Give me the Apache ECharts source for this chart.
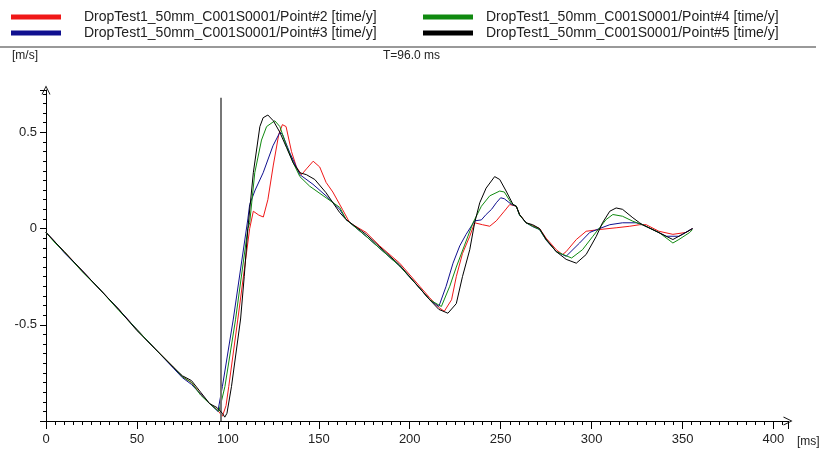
<!DOCTYPE html>
<html>
<head>
<meta charset="utf-8">
<script src="https://cdn.jsdelivr.net/npm/echarts@6/dist/echarts.min.js"></script>
<style>
  html, body { margin: 0; padding: 0; background: #fff; }
  #chart { width: 820px; height: 454px; }
</style>
</head>
<body>
<div id="chart"></div>
<script>
// series names
var seriesNames = [
  'DropTest1_50mm_C001S0001/Point#2 [time/y]',
  'DropTest1_50mm_C001S0001/Point#3 [time/y]',
  'DropTest1_50mm_C001S0001/Point#4 [time/y]',
  'DropTest1_50mm_C001S0001/Point#5 [time/y]'
];
var seriesColors = ['#f01818', '#101090', '#108a10', '#000000'];

// [time ms, velocity m/s]
var point2 = [[0,-0.02],[5,-0.07],[10,-0.12],[20,-0.22],[30,-0.32],[40,-0.42],[50,-0.525],[60,-0.625],[70,-0.72],[75,-0.77],[80,-0.80],[85,-0.86],[90,-0.91],[94,-0.94],[97,-0.975],[99,-0.92],[100.5,-0.82],[105.5,-0.47],[112,0.0],[114,0.09],[117,0.07],[119.5,0.06],[122,0.15],[125,0.33],[128,0.49],[130,0.54],[132,0.53],[135,0.40],[137.7,0.32],[140.5,0.28],[143.2,0.31],[146.9,0.35],[150.5,0.32],[154,0.24],[157.7,0.19],[163,0.10],[167,0.03],[176,-0.02],[183.5,-0.09],[194.5,-0.18],[205.5,-0.30],[211,-0.36],[216,-0.41],[219,-0.43],[223,-0.37],[225.6,-0.25],[229,-0.13],[233,-0.04],[235.7,0.03],[240,0.02],[244,0.012],[247.6,0.04],[252,0.09],[255,0.125],[258.6,0.116],[260.4,0.073],[264,0.03],[267.6,0.015],[271.4,0.0],[275,-0.05],[280.6,-0.11],[284,-0.135],[286,-0.12],[291.6,-0.057],[297,-0.014],[304.4,-0.005],[313.5,0.004],[321,0.012],[326.4,0.02],[330,0.02],[337,-0.014],[344.7,-0.03],[352,-0.02],[355.5,0]];
var point3 = [[0,-0.02],[5,-0.07],[10,-0.125],[20,-0.22],[30,-0.32],[40,-0.42],[50,-0.525],[60,-0.625],[70,-0.725],[75,-0.775],[80,-0.81],[85,-0.86],[90,-0.91],[94.5,-0.95],[97,-0.82],[103,-0.47],[111,0.05],[112,0.125],[115,0.2],[119.4,0.29],[124.8,0.43],[128.6,0.50],[130,0.49],[134,0.395],[139.6,0.28],[146.8,0.23],[154,0.17],[161.5,0.10],[165,0.047],[176,-0.04],[194.5,-0.195],[205.5,-0.31],[211,-0.37],[216,-0.405],[220,-0.30],[223.8,-0.18],[227.5,-0.09],[231,-0.03],[235.7,0.04],[239.4,0.045],[242,0.073],[245,0.10],[247.6,0.134],[250,0.16],[252,0.155],[256,0.125],[258.6,0.116],[260.4,0.07],[264,0.03],[267.6,0.01],[271.4,-0.005],[275,-0.06],[280.6,-0.12],[286,-0.144],[293.4,-0.075],[299,-0.02],[304.4,0],[310,0.02],[317,0.03],[324.5,0.03],[328,0.02],[337,-0.02],[341,-0.04],[348,-0.04],[355.5,0]];
var point4 = [[0,-0.02],[5,-0.075],[10,-0.12],[20,-0.225],[30,-0.32],[40,-0.425],[50,-0.525],[60,-0.625],[70,-0.72],[75,-0.77],[80,-0.80],[85,-0.865],[90,-0.91],[95,-0.95],[96.4,-0.9],[98.4,-0.82],[104.2,-0.474],[111,0.0],[112,0.03],[114.8,0.29],[118.5,0.46],[121.3,0.53],[125.8,0.56],[128.6,0.53],[132.2,0.43],[136,0.34],[139.6,0.27],[145,0.22],[154,0.16],[161.5,0.11],[165,0.047],[176,-0.04],[194.5,-0.195],[205.5,-0.31],[211,-0.37],[217.4,-0.405],[222,-0.30],[225.6,-0.20],[230,-0.09],[234.8,0.03],[239.4,0.116],[244,0.17],[249.5,0.195],[252,0.19],[256,0.13],[258.6,0.116],[260.4,0.07],[264,0.03],[267.6,0.012],[271.4,-0.005],[275,-0.058],[280.6,-0.12],[289,-0.153],[295,-0.11],[300.7,-0.04],[304.4,0.004],[308,0.047],[311.7,0.073],[317,0.064],[322.7,0.038],[328,0.02],[337,-0.02],[344.7,-0.075],[348,-0.057],[354,-0.02],[355.5,-0.005]];
var point5 = [[0,-0.02],[5,-0.07],[10,-0.12],[20,-0.22],[30,-0.32],[40,-0.42],[50,-0.53],[60,-0.625],[70,-0.72],[75,-0.765],[80,-0.79],[85,-0.85],[90,-0.91],[94,-0.93],[97,-0.96],[98.3,-0.98],[99.5,-0.96],[102,-0.82],[107,-0.47],[109,-0.25],[111,0.0],[114,0.29],[117.6,0.53],[119.4,0.576],[122,0.59],[125,0.56],[128.6,0.50],[132.3,0.42],[136,0.34],[139.6,0.29],[143.2,0.28],[147.8,0.255],[154,0.186],[161.5,0.083],[165,0.047],[176,-0.03],[194.5,-0.19],[205.5,-0.31],[211,-0.37],[216,-0.42],[221,-0.44],[225.6,-0.39],[229,-0.25],[233,-0.11],[235.7,0.03],[238.5,0.134],[242,0.21],[246.7,0.27],[249.5,0.255],[253,0.195],[256.8,0.125],[258.6,0.116],[260.4,0.073],[264,0.03],[267.6,0.02],[271.4,0.0],[275,-0.055],[280.6,-0.12],[286,-0.16],[291.6,-0.18],[297,-0.135],[302.6,-0.04],[306,0.03],[310,0.09],[313.5,0.107],[317,0.1],[322.7,0.056],[326.4,0.03],[328,0.02],[341,-0.04],[344.7,-0.057],[350,-0.03],[355.5,0]];

var cursorTime = 96.0;
var xTickInterval = 50;
var yTickInterval = 0.5;

var font = "'Liberation Sans', Arial, sans-serif";
var arrowPath = 'path://M0,10 L5,0 L10,10 L9,10 L5,2 L1,10 Z';

var chart = echarts.init(document.getElementById('chart'));

var allData = [point2, point3, point4, point5];
var series = allData.map(function (d, i) {
  var s = {
    name: seriesNames[i],
    type: 'line',
    data: d,
    showSymbol: false,
    smooth: false,
    lineStyle: { width: 1, color: seriesColors[i] },
    itemStyle: { color: seriesColors[i] },
    z: 2 + i
  };
  if (i === 0) {
    s.markLine = {
      silent: true,
      symbol: 'none',
      label: { show: false },
      lineStyle: { color: '#777', width: 2, type: 'solid' },
      data: [[{ coord: [cursorTime, 0.68] }, { coord: [cursorTime, -1] }]]
    };
  }
  return s;
});

chart.setOption({
  animation: false,
  backgroundColor: '#fff',
  textStyle: { fontFamily: font },
  legend: [
    {
      orient: 'vertical', left: 6, top: 5, itemGap: 2,
      icon: 'rect', itemWidth: 50, itemHeight: 5,
      data: [seriesNames[0], seriesNames[1]],
      textStyle: { fontFamily: font, fontSize: 14, color: '#222', padding: [0, 0, 0, 18] }
    },
    {
      orient: 'vertical', left: 418, top: 5, itemGap: 2,
      icon: 'rect', itemWidth: 50, itemHeight: 5,
      data: [seriesNames[2], seriesNames[3]],
      textStyle: { fontFamily: font, fontSize: 14, color: '#222', padding: [0, 0, 0, 8] }
    }
  ],
  graphic: [
    { type: 'line', shape: { x1: 0, y1: 47, x2: 816, y2: 47 }, style: { stroke: '#999', lineWidth: 2 } },
    { type: 'text', left: 12, top: 50, style: { text: '[m/s]', font: '12px ' + font, fill: '#222' } },
    { type: 'text', left: 383, top: 50, style: { text: 'T=' + cursorTime.toFixed(1) + ' ms', font: '12px ' + font, fill: '#222' } },
    { type: 'text', left: 797, top: 436, style: { text: '[ms]', font: '12px ' + font, fill: '#222' } }
  ],
  grid: { left: 46, right: 32, top: 90, bottom: 33 },
  xAxis: {
    type: 'value',
    min: 0, max: 408, interval: xTickInterval,
    axisLine: { onZero: false, lineStyle: { color: '#000', width: 1 }, symbol: ['none', arrowPath], symbolSize: [9, 11] },
    axisTick: { show: true, length: 8, lineStyle: { color: '#000' } },
    minorTick: { show: true, splitNumber: 10, length: 4, lineStyle: { color: '#000' } },
    splitLine: { show: false },
    axisLabel: { margin: 12, fontSize: 13, color: '#222', fontFamily: font, showMaxLabel: false }
  },
  yAxis: {
    type: 'value',
    min: -1, max: 0.72, interval: yTickInterval,
    axisLine: { onZero: false, lineStyle: { color: '#000', width: 1 }, symbol: ['none', arrowPath], symbolSize: [9, 11] },
    axisTick: { show: true, length: 6, lineStyle: { color: '#000' } },
    minorTick: { show: true, splitNumber: 10, length: 3, lineStyle: { color: '#000' } },
    splitLine: { show: false },
    axisLabel: {
      margin: 9, fontSize: 13, color: '#222', fontFamily: font,
      showMinLabel: false, showMaxLabel: false
    }
  },
  series: series
});
</script>
</body>
</html>
